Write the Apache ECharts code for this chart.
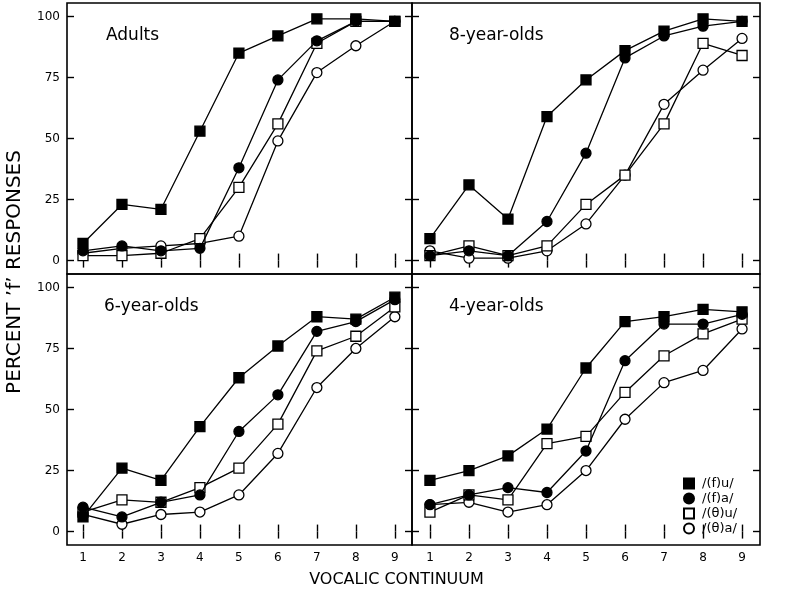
<!DOCTYPE html>
<html>
<head>
<meta charset="utf-8">
<script src="https://cdn.jsdelivr.net/npm/echarts@6/dist/echarts.min.js"></script>
<style>
  html, body { margin: 0; padding: 0; background: #fff; }
  #chart { width: 793px; height: 597px; }
</style>
</head>
<body>
<div id="chart"></div>
<script>
// ---- data ----
const continuum = [1, 2, 3, 4, 5, 6, 7, 8, 9];
const yTicks = [0, 25, 50, 75, 100];
const seriesNames = ['/(f)u/', '/(f)a/', '/(θ)u/', '/(θ)a/'];
const panelTitles = ['Adults', '8-year-olds', '6-year-olds', '4-year-olds'];

// Adults
const adults_fu = [7, 23, 21, 53, 85, 92, 99, 99, 98];
const adults_fa = [4, 6, 4, 5, 38, 74, 90, 98, 98];
const adults_thu = [2, 2, 3, 9, 30, 56, 89, 98, 98];
const adults_tha = [3, 5, 6, 7, 10, 49, 77, 88, 98];
// 8-year-olds
const y8_fu = [9, 31, 17, 59, 74, 86, 94, 99, 98];
const y8_fa = [2, 4, 2, 16, 44, 83, 92, 96, 98];
const y8_thu = [2, 6, 2, 6, 23, 35, 56, 89, 84];
const y8_tha = [4, 1, 1, 4, 15, 35, 64, 78, 91];
// 6-year-olds
const y6_fu = [6, 26, 21, 43, 63, 76, 88, 87, 96];
const y6_fa = [10, 6, 12, 15, 41, 56, 82, 86, 95];
const y6_thu = [8, 13, 12, 18, 26, 44, 74, 80, 92];
const y6_tha = [7, 3, 7, 8, 15, 32, 59, 75, 88];
// 4-year-olds
const y4_fu = [21, 25, 31, 42, 67, 86, 88, 91, 90];
const y4_fa = [11, 15, 18, 16, 33, 70, 85, 85, 89];
const y4_thu = [8, 15, 13, 36, 39, 57, 72, 81, 87];
const y4_tha = [11, 12, 8, 11, 25, 46, 61, 66, 83];

const panels = [
  { title: panelTitles[0], fu: adults_fu, fa: adults_fa, thu: adults_thu, tha: adults_tha },
  { title: panelTitles[1], fu: y8_fu, fa: y8_fa, thu: y8_thu, tha: y8_tha },
  { title: panelTitles[2], fu: y6_fu, fa: y6_fa, thu: y6_thu, tha: y6_tha },
  { title: panelTitles[3], fu: y4_fu, fa: y4_fa, thu: y4_thu, tha: y4_tha }
];

// ---- layout ----
const FONT = 'DejaVu Sans';
const grids = [
  { left: 67, top: 3, width: 345, height: 271 },
  { left: 412, top: 3, width: 348, height: 271 },
  { left: 67, top: 274, width: 345, height: 271 },
  { left: 412, top: 274, width: 348, height: 271 }
];
const xRanges = [[0.59, 9.44], [0.54, 9.46], [0.59, 9.44], [0.54, 9.46]];

const chart = echarts.init(document.getElementById('chart'), null, { renderer: 'canvas' });

const gridOpt = grids.map(g => Object.assign({
  show: true, borderColor: '#000', borderWidth: 1.6, backgroundColor: 'transparent', containLabel: false
}, g));

const xAxes = [];
const yAxes = [];
grids.forEach((g, i) => {
  const isBottom = i >= 2;
  ['bottom', 'top'].forEach(pos => {
    xAxes.push({
      type: 'value', gridIndex: i, position: pos,
      min: xRanges[i][0], max: xRanges[i][1],
      axisLine: { show: false },
      splitLine: { show: false },
      axisTick: { show: true, inside: true, length: 7, customValues: continuum, lineStyle: { color: '#000', width: 1.4 } },
      axisLabel: {
        show: isBottom && pos === 'bottom', customValues: continuum,
        color: '#000', fontFamily: FONT, fontSize: 12, margin: 7
      }
    });
  });
  ['left', 'right'].forEach(pos => {
    yAxes.push({
      type: 'value', gridIndex: i, position: pos,
      min: -5.5, max: 105.5,
      axisLine: { show: false },
      splitLine: { show: false },
      axisTick: { show: true, inside: true, length: 7, customValues: yTicks, lineStyle: { color: '#000', width: 1.4 } },
      axisLabel: {
        show: (i % 2 === 0) && pos === 'left', customValues: yTicks,
        color: '#000', fontFamily: FONT, fontSize: 12, margin: 7
      }
    });
  });
});

const styles = {
  '/(f)u/': { symbol: 'rect', size: 10, fill: '#000' },
  '/(f)a/': { symbol: 'circle', size: 10, fill: '#000' },
  '/(θ)u/': { symbol: 'rect', size: 10, fill: '#fff' },
  '/(θ)a/': { symbol: 'circle', size: 10, fill: '#fff' }
};

const series = [];
panels.forEach((p, i) => {
  const sets = [
    ['/(θ)a/', p.tha], ['/(θ)u/', p.thu], ['/(f)a/', p.fa], ['/(f)u/', p.fu]
  ];
  sets.forEach(([name, vals], k) => {
    const st = styles[name];
    series.push({
      type: 'line', name: name,
      xAxisIndex: i * 2, yAxisIndex: i * 2,
      data: continuum.map((c, j) => [c, vals[j]]),
      symbol: st.symbol, symbolSize: st.size,
      showAllSymbol: true,
      lineStyle: { color: '#000', width: 1.3 },
      itemStyle: { color: st.fill, borderColor: '#000', borderWidth: 1.3 },
      emphasis: { disabled: true },
      animation: false,
      z: 2 + k
    });
  });
});

const titles = [
  { text: panelTitles[0], left: 106, top: 27 },
  { text: panelTitles[1], left: 449, top: 27 },
  { text: panelTitles[2], left: 104, top: 298 },
  { text: panelTitles[3], left: 449, top: 298 }
].map(t => Object.assign(t, {
  textStyle: { fontFamily: FONT, fontSize: 17, fontWeight: 'normal', color: '#000' }, padding: 0
}));

chart.setOption({
  animation: false,
  backgroundColor: '#fff',
  title: titles,
  grid: gridOpt,
  xAxis: xAxes,
  yAxis: yAxes,
  series: series,
  legend: {
    left: 683, top: 477, orient: 'vertical',
    itemWidth: 10, itemHeight: 10, itemGap: 2,
    padding: 0,
    selectedMode: false,
    textStyle: { fontFamily: FONT, fontSize: 13, color: '#000', padding: [0, 0, 0, 3] },
    data: [
      { name: '/(f)u/', icon: 'rect' },
      { name: '/(f)a/', icon: 'circle' },
      { name: '/(θ)u/', icon: 'rect' },
      { name: '/(θ)a/', icon: 'circle' }
    ]
  },
  graphic: [
    {
      type: 'text', left: 'center', top: 572,
      style: { text: 'VOCALIC CONTINUUM', fontFamily: FONT, fontSize: 16, fill: '#000' }
    },
    {
      type: 'text', x: 15, y: 272, rotation: Math.PI / 2,
      style: { text: "PERCENT ’f’ RESPONSES", fontFamily: FONT, fontSize: 20, fill: '#000', align: 'center', verticalAlign: 'middle' }
    }
  ]
});
</script>
</body>
</html>
